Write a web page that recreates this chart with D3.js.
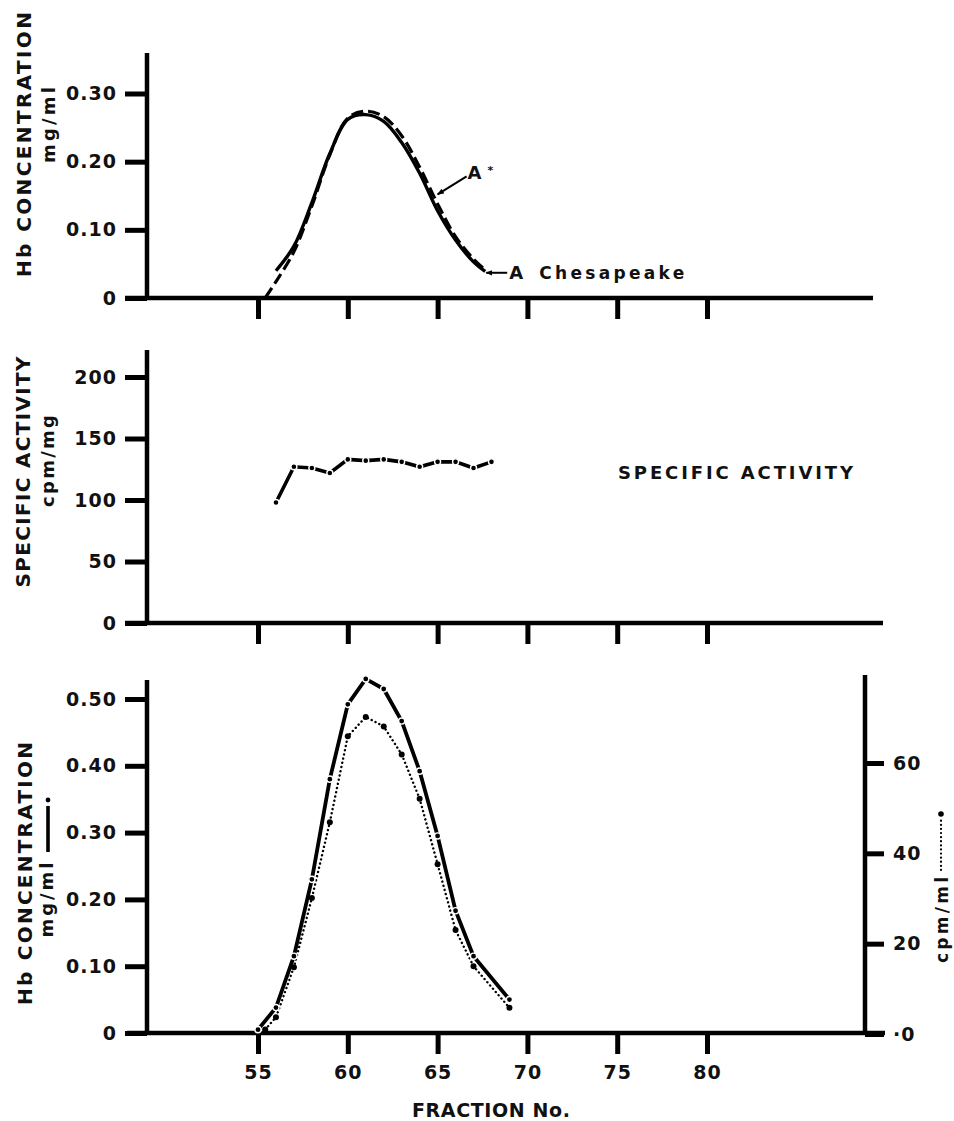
<!DOCTYPE html>
<html>
<head>
<meta charset="utf-8">
<script src="https://cdn.jsdelivr.net/npm/d3@7"></script>
<style>
  body { margin: 0; background: #fff; }
  svg { display: block; }
  text { font-family: "DejaVu Sans", sans-serif; font-weight: bold; fill: #111; }
</style>
</head>
<body>
<svg id="chart" width="954" height="1121"></svg>
<script>
// fraction axis
const fractionTicks = [55, 60, 65, 70, 75, 80];

// top panel: Hb concentration (mg/ml), two smooth elution curves
const chesFraction = [56, 57, 58, 59, 60, 61, 62, 63, 64, 65, 66, 67, 67.65];
const chesHb = [0.04, 0.076, 0.14, 0.212, 0.262, 0.269, 0.259, 0.228, 0.183, 0.128, 0.085, 0.053, 0.039];
const starFraction = [55.4, 56, 57, 58, 59, 60, 61, 62, 63, 64, 65, 66, 67, 67.7];
const starHb = [0, 0.024, 0.068, 0.135, 0.21, 0.264, 0.274, 0.266, 0.238, 0.192, 0.138, 0.09, 0.057, 0.04];
const topTicks = [0, 0.1, 0.2, 0.3];

// middle panel: specific activity (cpm/mg)
const saFraction = [56, 57, 58, 59, 60, 61, 62, 63, 64, 65, 66, 67, 68];
const saValues = [98, 127, 126, 122, 133, 132, 133, 131, 127, 131, 131, 126, 131];
const midTicks = [0, 50, 100, 150, 200];

// bottom panel: Hb (mg/ml, solid) and radioactivity (cpm/ml, dotted)
const hbFraction = [55, 56, 57, 58, 59, 60, 61, 62, 63, 64, 65, 66, 67, 69];
const hbValues = [0.005, 0.038, 0.115, 0.23, 0.38, 0.492, 0.53, 0.515, 0.467, 0.392, 0.295, 0.183, 0.115, 0.05];
const cpmFraction = [55.4, 56, 57, 58, 59, 60, 61, 62, 63, 64, 65, 66, 67, 69];
const cpmValues = [1, 3.7, 14.8, 30.1, 46.9, 65.9, 70.2, 68.1, 61.9, 52.1, 37.6, 23, 15, 5.8];
const hbTicks = [0, 0.1, 0.2, 0.3, 0.4, 0.5];
const cpmTicks = [0, 20, 40, 60];

const svg = d3.select('#chart');

const x = d3.scaleLinear().domain([55, 80]).range([258, 707]);
const yTop = d3.scaleLinear().domain([0, 0.3]).range([298, 93.5]);
const yMid = d3.scaleLinear().domain([0, 200]).range([623, 377]);
const yHb = d3.scaleLinear().domain([0, 0.5]).range([1033, 699]);
const yCpm = d3.scaleLinear().domain([0, 60]).range([1034, 763]);

const AXIS_W = 4.5;

function frameLine(x1, y1, x2, y2) {
  svg.append('line')
    .attr('x1', x1).attr('y1', y1).attr('x2', x2).attr('y2', y2)
    .attr('stroke', '#000').attr('stroke-width', AXIS_W);
}

function styleAxis(g) {
  g.attr('font-family', null).attr('font-size', null);
  g.select('.domain').remove();
  g.selectAll('.tick line').attr('stroke', '#000').attr('stroke-width', 5);
  g.selectAll('.tick text')
    .attr('fill', '#111')
    .style('font-size', '19px')
    .style('letter-spacing', '1px');
}

function leftAxis(scale, ticks, fmt) {
  svg.append('g')
    .attr('transform', 'translate(147,0)')
    .call(d3.axisLeft(scale).tickValues(ticks).tickFormat(fmt).tickSize(22).tickPadding(8))
    .call(styleAxis);
}

function bottomTicks(yPos, labels) {
  svg.append('g')
    .attr('transform', `translate(0,${yPos})`)
    .call(d3.axisBottom(x).tickValues(fractionTicks)
      .tickFormat(labels ? d3.format('d') : '')
      .tickSize(21).tickPadding(12))
    .call(styleAxis);
}

const fmt2 = d => d === 0 ? '0' : d.toFixed(2);

// ---------- top panel ----------
frameLine(147, 53, 147, 300);
frameLine(125, 298, 873, 298);
leftAxis(yTop, topTicks, fmt2);
bottomTicks(298, false);

const smooth = d3.line().curve(d3.curveCatmullRom.alpha(0.5));

svg.append('path')
  .attr('d', smooth(chesFraction.map((f, i) => [x(f), yTop(chesHb[i])])))
  .attr('fill', 'none').attr('stroke', '#000').attr('stroke-width', 3.4);

svg.append('path')
  .attr('d', smooth(starFraction.map((f, i) => [x(f), yTop(starHb[i])])))
  .attr('fill', 'none').attr('stroke', '#000').attr('stroke-width', 3.2)
  .attr('stroke-dasharray', '12,5');

// arrow marker
svg.append('defs').append('marker')
  .attr('id', 'arrow').attr('viewBox', '0 0 10 10')
  .attr('refX', 9).attr('refY', 5)
  .attr('markerWidth', 7).attr('markerHeight', 7)
  .attr('markerUnits', 'userSpaceOnUse')
  .attr('orient', 'auto')
  .append('path').attr('d', 'M0,1 L10,5 L0,9 Z').attr('fill', '#000');

const starTip = [x(65), yTop(0.152)];
svg.append('line')
  .attr('x1', starTip[0] + 29).attr('y1', starTip[1] - 18)
  .attr('x2', starTip[0]).attr('y2', starTip[1])
  .attr('stroke', '#000').attr('stroke-width', 2)
  .attr('marker-end', 'url(#arrow)');
svg.append('text').attr('x', starTip[0] + 30).attr('y', starTip[1] - 15)
  .style('font-size', '18px').text('A');
svg.append('text').attr('x', starTip[0] + 50).attr('y', starTip[1] - 20)
  .style('font-size', '11px').text('*');

const chesTip = [x(67.65) + 1, yTop(0.037)];
svg.append('line')
  .attr('x1', chesTip[0] + 21).attr('y1', chesTip[1])
  .attr('x2', chesTip[0]).attr('y2', chesTip[1])
  .attr('stroke', '#000').attr('stroke-width', 2)
  .attr('marker-end', 'url(#arrow)');
svg.append('text').attr('x', chesTip[0] + 23).attr('y', chesTip[1] + 6.5)
  .style('font-size', '18px').text('A');
svg.append('text').attr('x', chesTip[0] + 53).attr('y', chesTip[1] + 6.5)
  .style('font-size', '17px')
  .attr('textLength', 145).attr('lengthAdjust', 'spacing')
  .text('Chesapeake');

// ---------- middle panel ----------
frameLine(147, 350, 147, 625);
frameLine(125, 623, 883, 623);
leftAxis(yMid, midTicks, d3.format('d'));
bottomTicks(623, false);

const straight = d3.line();
svg.append('path')
  .attr('d', straight(saFraction.map((f, i) => [x(f), yMid(saValues[i])])))
  .attr('fill', 'none').attr('stroke', '#000').attr('stroke-width', 3.6);
svg.append('g').selectAll('circle')
  .data(saFraction.map((f, i) => [x(f), yMid(saValues[i])]))
  .join('circle')
  .attr('cx', d => d[0]).attr('cy', d => d[1]).attr('r', 3)
  .attr('fill', '#000').attr('stroke', '#fff').attr('stroke-width', 1.4);

svg.append('text').attr('x', 618).attr('y', 478.5)
  .style('font-size', '18px')
  .attr('textLength', 235).attr('lengthAdjust', 'spacing')
  .text('SPECIFIC ACTIVITY');

// ---------- bottom panel ----------
frameLine(147, 680, 147, 1035);
frameLine(127, 1033, 885, 1033);
frameLine(865, 675, 865, 1035);
leftAxis(yHb, hbTicks, fmt2);
bottomTicks(1033, true);

svg.append('g')
  .attr('transform', 'translate(865,0)')
  .call(d3.axisRight(yCpm).tickValues(cpmTicks)
    .tickFormat(d => d === 0 ? '·0' : d).tickSize(19).tickPadding(9))
  .call(styleAxis);

const cpmPts = cpmFraction.map((f, i) => [x(f), yCpm(cpmValues[i])]);
svg.append('path')
  .attr('d', straight(cpmPts))
  .attr('fill', 'none').attr('stroke', '#000').attr('stroke-width', 2.4)
  .attr('stroke-linecap', 'round').attr('stroke-dasharray', '0.1,4.2');
svg.append('g').selectAll('circle')
  .data(cpmPts).join('circle')
  .attr('cx', d => d[0]).attr('cy', d => d[1]).attr('r', 3)
  .attr('fill', '#000');

const hbPts = hbFraction.map((f, i) => [x(f), yHb(hbValues[i])]);
svg.append('path')
  .attr('d', straight(hbPts))
  .attr('fill', 'none').attr('stroke', '#000').attr('stroke-width', 3.8);
svg.append('g').selectAll('circle')
  .data(hbPts).join('circle')
  .attr('cx', d => d[0]).attr('cy', d => d[1]).attr('r', 3.1)
  .attr('fill', '#000').attr('stroke', '#fff').attr('stroke-width', 1.4);

svg.append('text').attr('x', 491).attr('y', 1117)
  .attr('text-anchor', 'middle')
  .style('font-size', '19px')
  .attr('textLength', 158).attr('lengthAdjust', 'spacing')
  .text('FRACTION No.');

// ---------- rotated axis titles ----------
function vText(cx, cy, str, size, len) {
  svg.append('text')
    .attr('transform', `translate(${cx},${cy}) rotate(-90)`)
    .attr('text-anchor', 'middle')
    .style('font-size', size + 'px')
    .attr('textLength', len).attr('lengthAdjust', 'spacing')
    .text(str);
}

vText(30.5, 144.5, 'Hb CONCENTRATION', 20, 265);
vText(55, 125, 'mg/ml', 18, 76);
vText(30, 472, 'SPECIFIC ACTIVITY', 20, 231);
vText(54, 461, 'cpm/mg', 18, 92);
vText(31.5, 873.5, 'Hb CONCENTRATION', 20, 263);
vText(53, 900, 'mg/ml', 18, 75);
vText(948, 920, 'cpm/ml', 17, 86);

// legend keys beside the unit labels
svg.append('line')
  .attr('x1', 48).attr('y1', 852).attr('x2', 48).attr('y2', 806)
  .attr('stroke', '#000').attr('stroke-width', 3.6);
svg.append('circle').attr('cx', 48).attr('cy', 800).attr('r', 3)
  .attr('fill', '#000').attr('stroke', '#fff').attr('stroke-width', 1.2);

svg.append('line')
  .attr('x1', 941).attr('y1', 870).attr('x2', 941).attr('y2', 820)
  .attr('stroke', '#000').attr('stroke-width', 2.2)
  .attr('stroke-linecap', 'round').attr('stroke-dasharray', '0.1,4');
svg.append('circle').attr('cx', 941).attr('cy', 814).attr('r', 2.8)
  .attr('fill', '#000');
</script>
</body>
</html>
